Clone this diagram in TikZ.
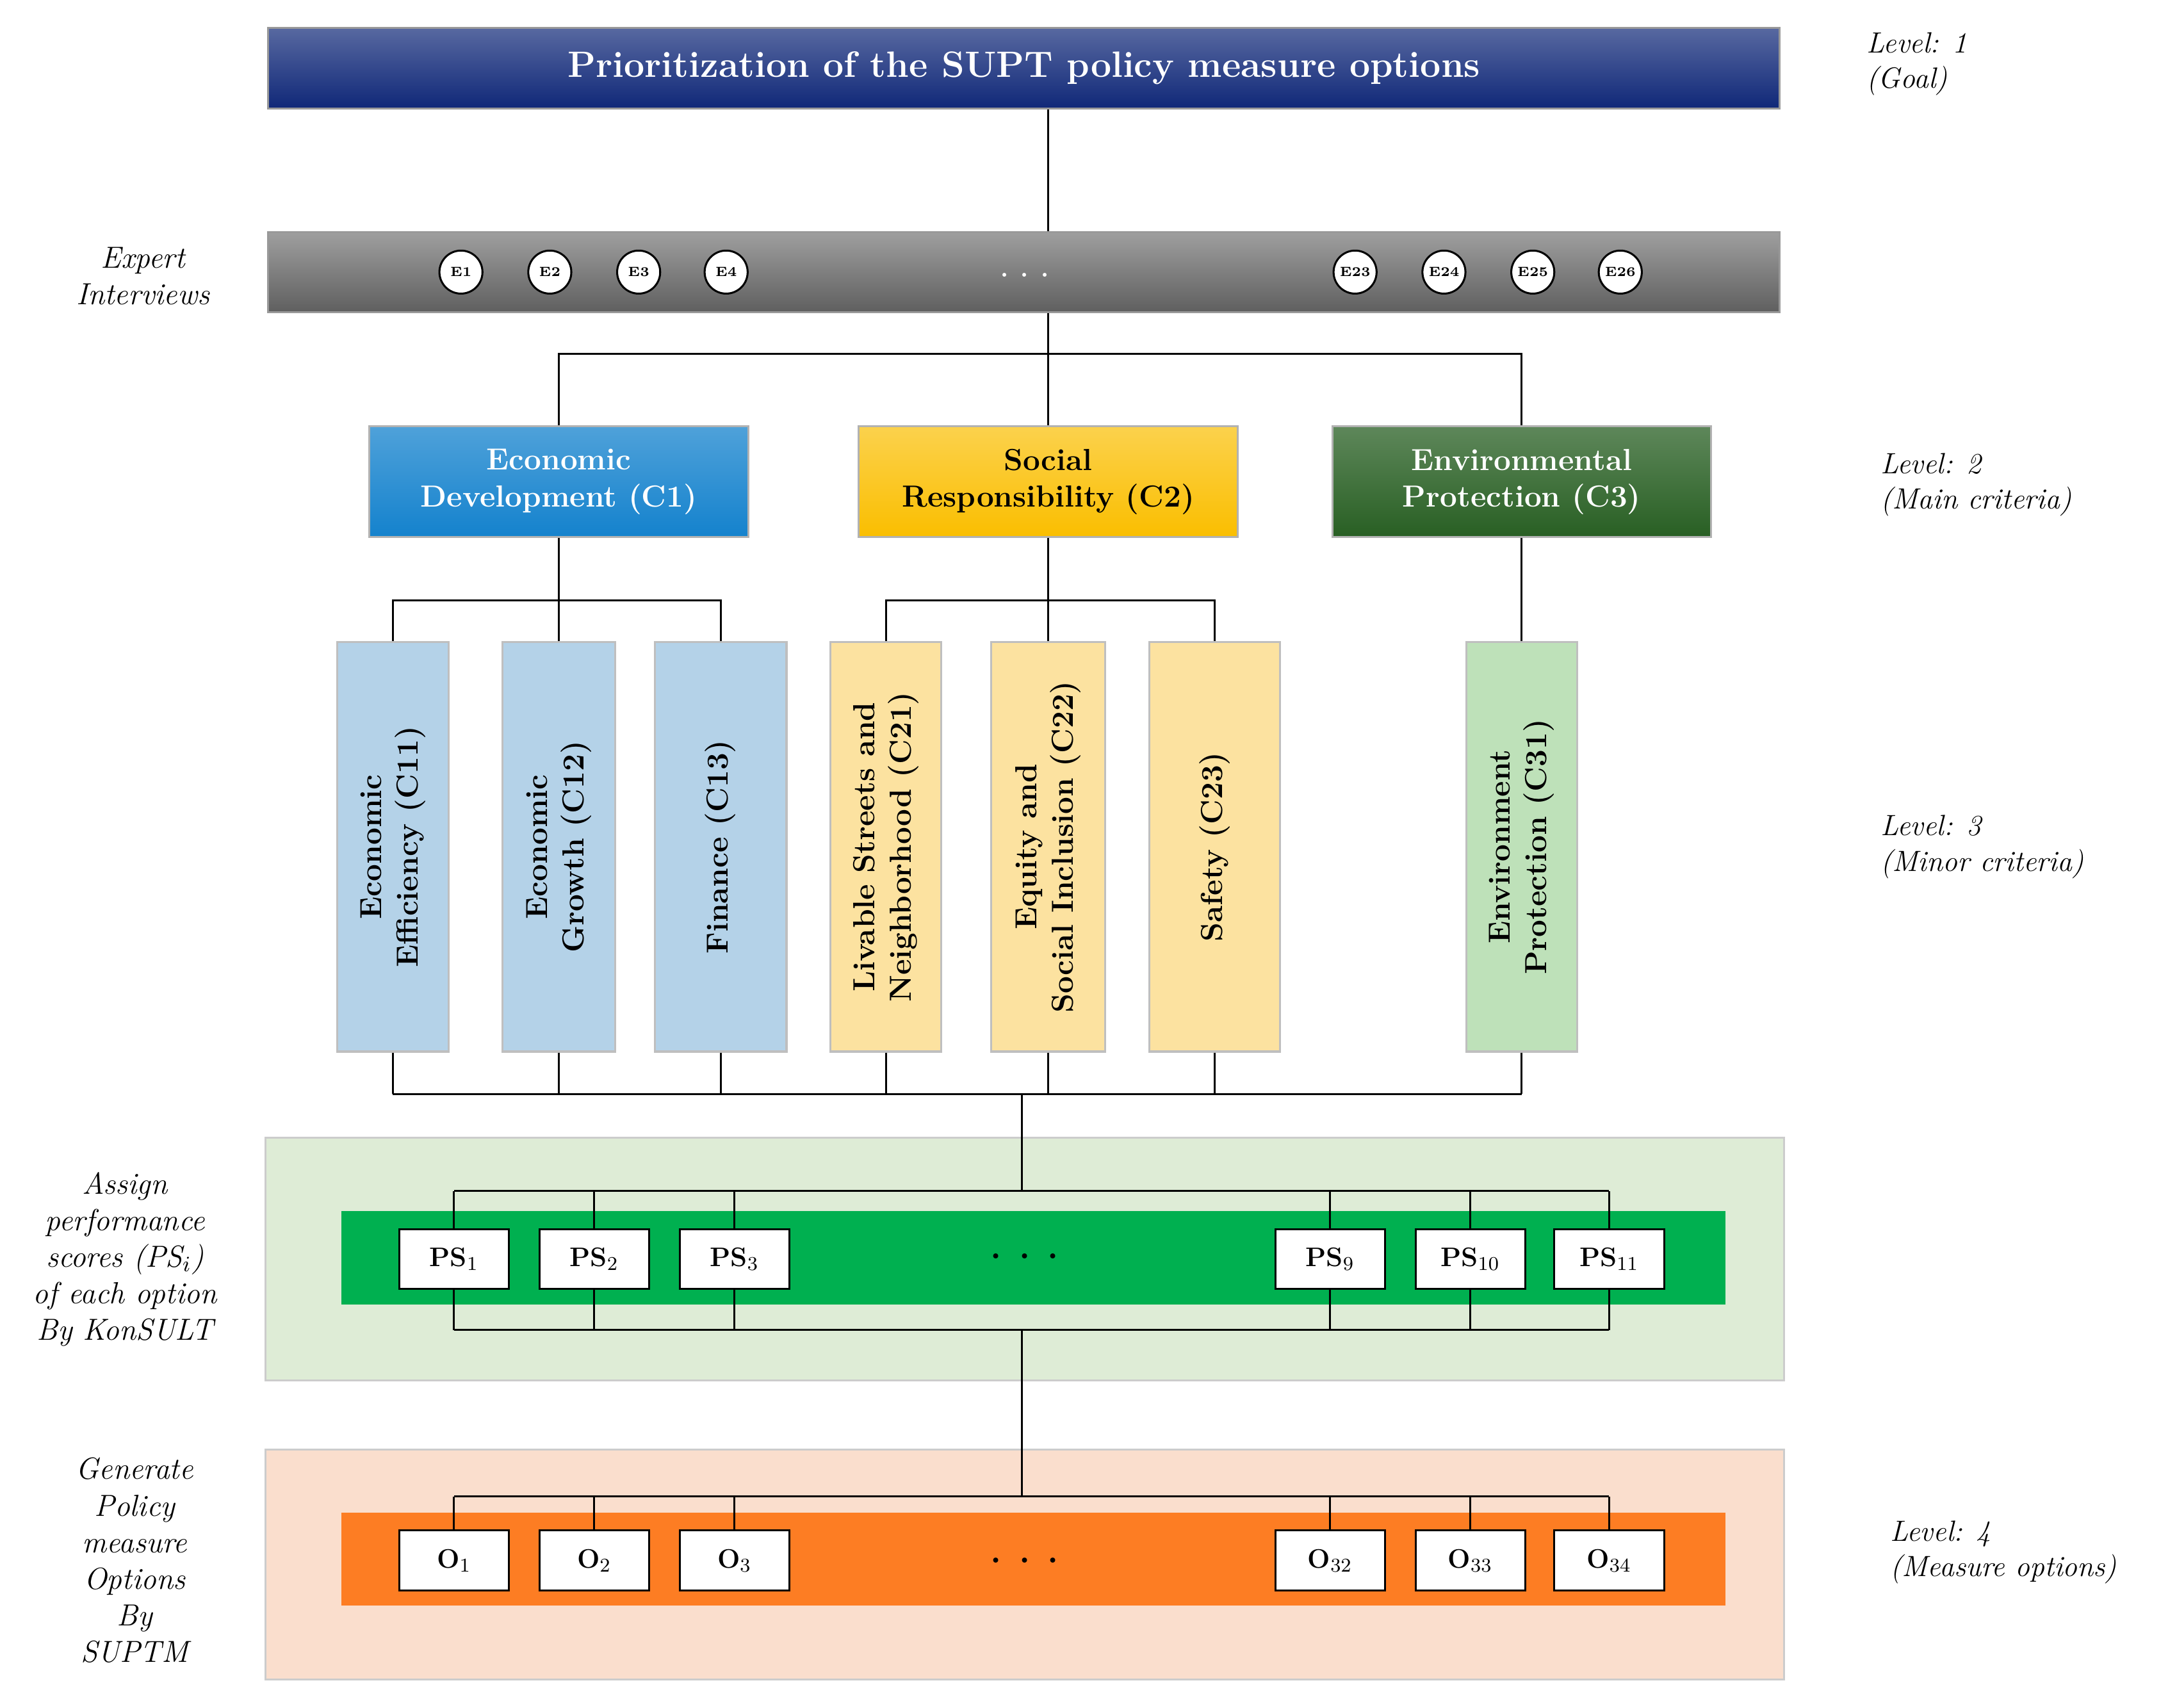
\documentclass[tikz,border=0pt]{standalone}
\usetikzlibrary{positioning}
\definecolor{goalblue}{RGB}{16,40,120}
\definecolor{expgray}{RGB}{95,95,95}
\definecolor{econblue}{RGB}{20,130,205}
\definecolor{socyellow}{RGB}{250,190,0}
\definecolor{envgreen}{RGB}{40,95,35}
\definecolor{lblue}{RGB}{180,210,232}
\definecolor{lyellow}{RGB}{252,226,160}
\definecolor{lgreen}{RGB}{190,225,185}
\definecolor{panelgreen}{RGB}{222,236,214}
\definecolor{bandgreen}{RGB}{0,176,80}
\definecolor{panelorange}{RGB}{250,222,205}
\definecolor{bandorange}{RGB}{253,125,35}
\begin{document}
\begin{tikzpicture}[x=0.02cm,y=-0.02cm,
  thick,
  bar/.style={draw=black!40,inner sep=0pt,minimum height=1.16cm,minimum width=21.78cm},
  main box/.style={draw=black!30,inner sep=0pt,minimum width=5.46cm,minimum height=1.6cm,
    font=\fontsize{12.5}{15}\selectfont\bfseries,align=center},
  minor box/.style={draw=black!25,inner sep=0pt,minimum width=5.9cm,rotate=90,
    font=\fontsize{12.5}{15}\selectfont\bfseries,align=center},
  expert/.style={circle,draw,fill=white,minimum size=0.62cm,inner sep=0pt,font=\fontsize{5.5}{6}\selectfont\bfseries},
  score/.style={draw,fill=white,minimum width=1.58cm,minimum height=0.86cm,inner sep=0pt,font=\fontsize{11}{13}\selectfont\bfseries},
  side/.style={align=center,font=\fontsize{12.5}{15}\selectfont\itshape},
  level/.style={align=left,anchor=west,font=\fontsize{12}{14.5}\selectfont\itshape}]

  \useasboundingbox (0,0) rectangle (1568,1230);

  % goal and experts
  \node[bar,top color=goalblue!70,bottom color=goalblue,text=white,
    font=\fontsize{15}{18}\selectfont\bfseries] (goal) at (737.5,49) {Prioritization of the SUPT policy measure options};
  \node[bar,top color=expgray!60,bottom color=expgray] (exp) at (737.5,196) {};
  \foreach \x/\n in {332/1,396/2,460/3,523/4,976/23,1040/24,1104/25,1167/26}
    \node[expert] (e\n) at (\x,196) {E\n};
  \node[font=\bfseries,text=white] (edots) at (738,198) {. . .};
  \node[side] (expl) at (103,199) {Expert\\Interviews};

  % main criteria
  \node[main box,top color=econblue!75,bottom color=econblue,text=white] (c1) at (402.5,347) {Economic\\Development (C1)};
  \node[main box,top color=socyellow!70,bottom color=socyellow] (c2) at (755,347) {Social\\Responsibility (C2)};
  \node[main box,top color=envgreen!75,bottom color=envgreen,text=white] (c3) at (1096,347) {Environmental\\Protection (C3)};

  % minor criteria
  \node[minor box,minimum height=1.6cm,fill=lblue] (c11) at (283,610) {Economic\\Efficiency (C11)};
  \node[minor box,minimum height=1.62cm,fill=lblue] (c12) at (402.5,610) {Economic\\Growth (C12)};
  \node[minor box,minimum height=1.9cm,fill=lblue] (c13) at (519,610) {Finance (C13)};
  \node[minor box,minimum height=1.6cm,fill=lyellow] (c21) at (638,610) {Livable Streets and\\Neighborhood (C21)};
  \node[minor box,minimum height=1.64cm,fill=lyellow] (c22) at (755,610) {Equity and\\Social Inclusion (C22)};
  \node[minor box,minimum height=1.88cm,fill=lyellow] (c23) at (875,610) {Safety (C23)};
  \node[minor box,minimum height=1.6cm,fill=lgreen] (c31) at (1096,610) {Environment\\Protection (C31)};

  % performance scores
  \node[draw=black!20,fill=panelgreen,minimum width=21.88cm,minimum height=3.5cm,inner sep=0pt] (pspanel) at (738,907) {};
  \node[fill=bandgreen,minimum width=19.94cm,minimum height=1.34cm,inner sep=0pt] (psband) at (744.5,906) {};
  \foreach \x/\n in {327/1,428/2,529/3,958/9,1059/10,1159/11}
    \node[score] (ps\n) at (\x,907) {PS$_{\n}$};
  \node[font=\bfseries\Large] (psdots) at (738,905) {. . .};

  % options
  \node[draw=black!20,fill=panelorange,minimum width=21.88cm,minimum height=3.32cm,inner sep=0pt] (opanel) at (738,1127) {};
  \node[fill=bandorange,minimum width=19.94cm,minimum height=1.34cm,inner sep=0pt] (oband) at (744.5,1123) {};
  \foreach \x/\n in {327/1,428/2,529/3,958/32,1059/33,1159/34}
    \node[score] (o\n) at (\x,1124) {O$_{\n}$};
  \node[font=\bfseries\Large] (odots) at (738,1124) {. . .};

  % side texts
  \node[side] (psl) at (90,907) {Assign\\performance\\scores (PS$_i$)\\of each option\\By KonSULT};
  \node[side] (ol) at (97,1124) {Generate\\Policy\\measure\\Options\\By\\SUPTM};
  \node[level] (l1) at (1338,46) {Level: 1\\(Goal)};
  \node[level] (l2) at (1348,349) {Level: 2\\(Main criteria)};
  \node[level] (l3) at (1348,610) {Level: 3\\(Minor criteria)};
  \node[level] (l4) at (1355,1118) {Level: 4\\(Measure options)};

  % connectors
  \coordinate (j1) at (755,255);
  \coordinate (j2) at (736,788);
  \coordinate (j3) at (736,858);
  \coordinate (j4) at (736,958);
  \coordinate (j5) at (736,1078);
  \draw (goal.south -| j1) -- (exp.north -| j1);
  \draw (exp.south -| j1) -- (j1);
  \draw (c1.north) |- (j1) -| (c3.north);
  \draw (j1) -- (c2.north);
  \draw (c1.south) -- ++(0,45) coordinate (k1);
  \draw (c11.east) |- (k1) -| (c13.east);
  \draw (k1) -- (c12.east);
  \draw (c2.south) -- ++(0,45) coordinate (k2);
  \draw (c21.east) |- (k2) -| (c23.east);
  \draw (k2) -- (c22.east);
  \draw (c3.south) -- (c31.east);
  \foreach \c in {c11,c12,c13,c21,c22,c23,c31}
    \draw (\c.west) -- (\c.west |- j2);
  \draw (c11.west |- j2) -- (c31.west |- j2);
  \draw (j2) -- (j3);
  \draw (ps1.north |- j3) -- (ps11.north |- j3);
  \draw (ps1.south |- j4) -- (ps11.south |- j4);
  \foreach \n in {1,2,3,9,10,11} {
    \draw (ps\n.north) -- (ps\n.north |- j3);
    \draw (ps\n.south) -- (ps\n.south |- j4);
  }
  \draw (j4) -- (j5);
  \draw (o1.north |- j5) -- (o34.north |- j5);
  \foreach \n in {1,2,3,32,33,34}
    \draw (o\n.north) -- (o\n.north |- j5);
\end{tikzpicture}
\end{document}
